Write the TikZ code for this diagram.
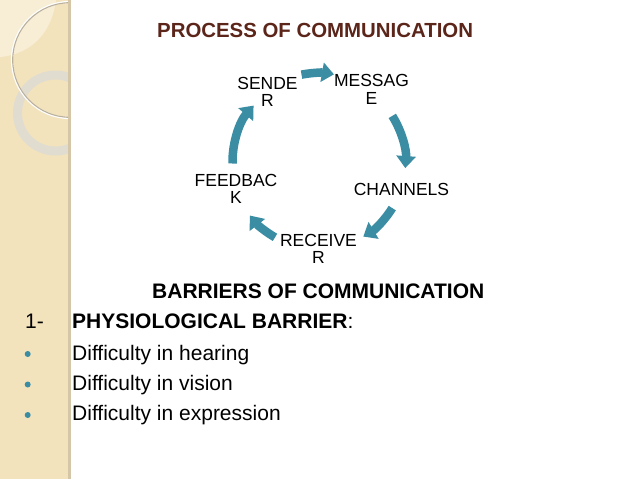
\documentclass[tikz,border=0pt]{standalone}
\usepackage{fontspec}
\setmainfont{Liberation Sans}[Ligatures=NoCommon]
\usetikzlibrary{arrows.meta}
\definecolor{strip}{RGB}{243,227,189}
\definecolor{stripLight}{RGB}{248,238,214}
\definecolor{stripEdge}{RGB}{212,198,166}
\definecolor{ringGrey}{RGB}{224,220,208}
\definecolor{arcGrey}{RGB}{186,176,156}
\definecolor{teal}{RGB}{58,141,163}
\definecolor{titleBrown}{RGB}{92,37,26}
\tikzset{
  cyctext/.style={inner sep=0pt, align=center, font=\fontsize{17.5}{17.5}\selectfont},
  cycarrow/.style={draw=teal, line width=8.5pt, -{Triangle[length=12pt,width=19pt]}},
  bigtext/.style={inner sep=0pt, anchor=base west, font=\fontsize{21}{25}\selectfont},
  bulletdot/.style={fill=teal, draw=none}
}
\begin{document}
\begin{tikzpicture}[x=1pt,y=-1pt]
\useasboundingbox (0,0) rectangle (638,479);
\fill[white] (0,0) rectangle (638,479);
% left strip
\fill[strip] (0,0) rectangle (68,479);
\begin{scope}
  \clip (0,0) rectangle (68,479);
  \fill[stripLight] (0,0) -- (56,0) .. controls (52,32) and (32,54) .. (0,57) -- cycle;
  \draw[ringGrey, line width=9pt] (55.5,113) circle[radius=38];
  \draw[white, line width=2.2pt] (70,60) circle[radius=58];
  \draw[arcGrey, line width=1.1pt] (70,60) circle[radius=57.3];
\end{scope}
\fill[stripEdge] (68,0) rectangle (71,479);

% title
\node[inner sep=0pt, anchor=base west, text=titleBrown,
      font=\fontsize{20.4}{24}\selectfont\bfseries] (title) at (157,37.3) {PROCESS OF COMMUNICATION};

% cycle nodes
\node[cyctext] (sender)   at (267.5,91.7) {SENDE\\R};
\node[cyctext] (message)  at (371.5,89.5) {MESSAG\\E};
\node[cyctext] (channels) at (401.5,189)  {CHANNELS};
\node[cyctext] (receiver) at (318.5,249)  {RECEIVE\\R};
\node[cyctext] (feedback) at (236,189)    {FEEDBAC\\K};

% cycle arrows
\begin{scope}[shift={(318.5,162)}, x=1pt, y=1pt]
  \coordinate (a1) at (101:89);
  \coordinate (a2) at (32:87);
  \coordinate (a3) at (-32:87);
  \coordinate (a4) at (-120:87);
  \coordinate (a5) at (181:86);
  \draw[cycarrow] (a1) arc[start angle=101, end angle=80, radius=89];
  \draw[cycarrow] (a2) arc[start angle=32, end angle=-4, radius=87];
  \draw[cycarrow] (a3) arc[start angle=-32, end angle=-59, radius=87];
  \draw[cycarrow] (a4) arc[start angle=-120, end angle=-142, radius=87];
  \draw[cycarrow] (a5) arc[start angle=181, end angle=139, radius=86];
\end{scope}

% barriers
\node[bigtext, font=\fontsize{21}{25}\selectfont\bfseries] (barriers) at (152,298.3) {BARRIERS OF COMMUNICATION};
\node[bigtext] (num) at (25,328) {1-};
\node[bigtext] (physio) at (72,328) {\textbf{PHYSIOLOGICAL BARRIER}:};
\node[bigtext] (hear) at (72,360) {Difficulty in hearing};
\node[bigtext] (vision) at (72,390.3) {Difficulty in vision};
\node[bigtext] (expr) at (72,420.8) {Difficulty in expression};
\fill[bulletdot] (27.7,354) circle[radius=3];
\fill[bulletdot] (27.7,384.5) circle[radius=3];
\fill[bulletdot] (27.7,415) circle[radius=3];
\end{tikzpicture}
\end{document}
